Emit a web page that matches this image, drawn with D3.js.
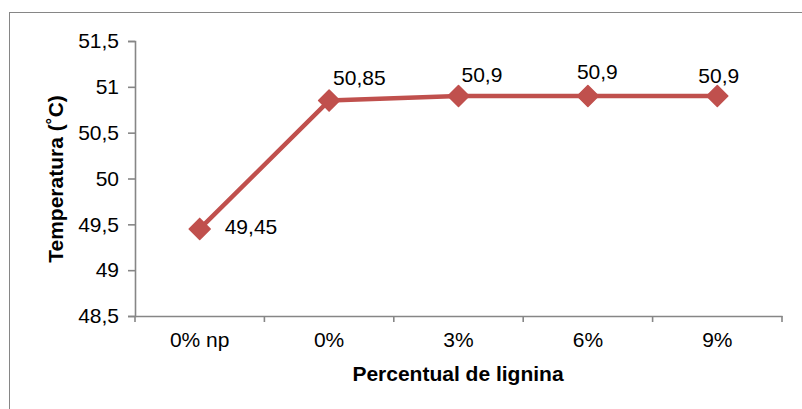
<!DOCTYPE html>
<html>
<head>
<meta charset="utf-8">
<script src="https://cdn.jsdelivr.net/npm/d3@7"></script>
<style>
  html, body { margin: 0; padding: 0; background: #fff; }
  svg { display: block; font-family: "Liberation Sans", Arial, sans-serif; }
</style>
</head>
<body>
<svg id="chart" width="802" height="409"></svg>
<script>
// Temperature by lignin percentage
const categories = ["0% np", "0%", "3%", "6%", "9%"];
const temperatures = [49.45, 50.85, 50.9, 50.9, 50.9];
const valueLabels = ["49,45", "50,85", "50,9", "50,9", "50,9"];
const yTicks = [48.5, 49, 49.5, 50, 50.5, 51, 51.5];

// Placement of each value label relative to its marker (dx, dy)
const labelOffsets = [[25, 5.5], [4, -15.6], [3, -14.3], [-11, -17], [-19, -13.3]];

const svg = d3.select("#chart");
const axisColor = "#868686";
const lineColor = "#C0504D";
const fmt = v => String(v).replace(".", ",");

// chart area frame
svg.append("rect")
  .attr("x", 9.5).attr("y", 12.5)
  .attr("width", 820).attr("height", 420)
  .attr("fill", "none").attr("stroke", axisColor).attr("stroke-width", 1);

const x = d3.scaleBand().domain(categories).range([135, 782]).padding(0);
const y = d3.scaleLinear().domain([48.5, 51.5]).range([316, 41]);

// y axis
const yAxis = svg.append("g").attr("transform", "translate(135,0)")
  .call(d3.axisLeft(y).tickValues(yTicks).tickFormat(fmt).tickSize(7).tickPadding(9));
yAxis.select(".domain").attr("stroke", axisColor).attr("stroke-width", 1.6);
yAxis.selectAll(".tick line").attr("stroke", axisColor).attr("stroke-width", 1.6);
yAxis.selectAll(".tick text").attr("fill", "#000").attr("font-size", 21)
  .attr("font-family", "Liberation Sans, Arial, sans-serif");

// x axis
const xAxis = svg.append("g").attr("transform", "translate(0,316)")
  .call(d3.axisBottom(x).tickSize(0).tickPadding(0));
xAxis.select(".domain").attr("stroke", axisColor).attr("stroke-width", 1.6);
xAxis.selectAll(".tick text").attr("fill", "#000").attr("font-size", 21)
  .attr("font-family", "Liberation Sans, Arial, sans-serif")
  .attr("dy", null).attr("y", 31);
// category boundary ticks
const bounds = categories.map(c => x(c)).concat([x.range()[1]]);
xAxis.selectAll("line.bound").data(bounds).join("line")
  .attr("class", "bound")
  .attr("x1", d => d).attr("x2", d => d)
  .attr("y1", 0).attr("y2", 6)
  .attr("stroke", axisColor).attr("stroke-width", 1.6);

// axis titles
svg.append("text")
  .attr("transform", "translate(63,179) rotate(-90)")
  .attr("text-anchor", "middle")
  .attr("font-size", 21).attr("font-weight", "bold").attr("fill", "#000")
  .text("Temperatura (˚C)");
svg.append("text")
  .attr("x", 458).attr("y", 381)
  .attr("text-anchor", "middle")
  .attr("font-size", 21).attr("font-weight", "bold").attr("fill", "#000")
  .text("Percentual de lignina");

// series
const pts = categories.map((c, i) => ({ c, v: temperatures[i], i }));
const cx = d => x(d.c) + x.bandwidth() / 2;

svg.append("path")
  .datum(pts)
  .attr("fill", "none")
  .attr("stroke", lineColor)
  .attr("stroke-width", 4.5)
  .attr("stroke-linejoin", "round")
  .attr("d", d3.line().x(cx).y(d => y(d.v)));

const r = 10.5;
svg.selectAll("path.marker").data(pts).join("path")
  .attr("class", "marker")
  .attr("transform", d => `translate(${cx(d)},${y(d.v)})`)
  .attr("d", `M0,${-r}L${r},0L0,${r}L${-r},0Z`)
  .attr("fill", lineColor)
  .attr("stroke", lineColor)
  .attr("stroke-width", 1.5)
  .attr("stroke-linejoin", "round");

svg.selectAll("text.vlabel").data(pts).join("text")
  .attr("class", "vlabel")
  .attr("x", d => cx(d) + labelOffsets[d.i][0])
  .attr("y", d => y(d.v) + labelOffsets[d.i][1])
  .attr("font-size", 21).attr("fill", "#000")
  .text(d => valueLabels[d.i]);
</script>
</body>
</html>
